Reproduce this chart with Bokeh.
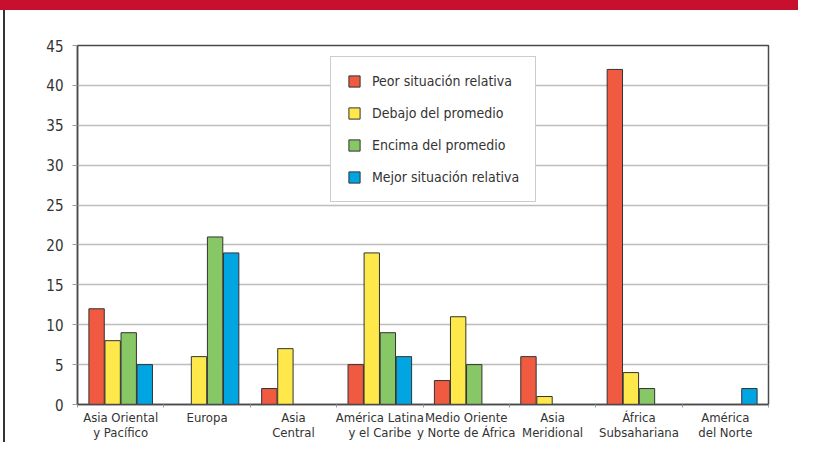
import numpy as np
from bokeh.plotting import figure
from bokeh.models import (Range1d, FixedTicker, Legend, LegendItem, ColumnDataSource, Div)
from bokeh.layouts import column, row
from bokeh.embed import file_html
from bokeh.resources import INLINE

# ---- data -------------------------------------------------------------
categories = [
    "Asia Oriental\ny Pacífico",
    "Europa",
    "Asia\nCentral",
    "América Latina\ny el Caribe",
    "Medio Oriente\ny Norte de África",
    "Asia\nMeridional",
    "África\nSubsahariana",
    "América\ndel Norte",
]
series_names = [
    "Peor situación relativa",
    "Debajo del promedio",
    "Encima del promedio",
    "Mejor situación relativa",
]
peor = [12, 0, 2, 5, 3, 6, 42, 0]
debajo = [8, 6, 7, 19, 11, 1, 4, 0]
encima = [9, 21, 0, 9, 5, 0, 2, 0]
mejor = [5, 19, 0, 6, 0, 0, 0, 2]
y_ticks = [0, 5, 10, 15, 20, 25, 30, 35, 40, 45]

series_values = [peor, debajo, encima, mejor]
colors = ["#EF5A40", "#FFE84A", "#87C766", "#00A5E1"]

FONT = "'DejaVu Sans Condensed', Roboto, sans-serif"
TXT = "#333333"

n = len(categories)
centers = np.arange(n) + 0.5
bar_step = 0.186
bar_w = 0.178

p = figure(width=793, height=432, x_range=Range1d(0, n), y_range=Range1d(0, 45),
           output_backend="svg", toolbar_location=None,
           min_border_left=72, min_border_right=30, min_border_top=35,
           min_border_bottom=30)
p.background_fill_color = "white"
p.border_fill_color = "white"
p.outline_line_color = "#4a4a4a"
p.outline_line_width = 1.5

# grid
p.xgrid.grid_line_color = None
p.ygrid.grid_line_color = "#bdbdbd"
p.ygrid.grid_line_width = 1.5
p.ygrid.ticker = FixedTicker(ticks=y_ticks)

# y axis
p.yaxis.ticker = FixedTicker(ticks=y_ticks)
p.yaxis.axis_line_color = "#4a4a4a"
p.yaxis.axis_line_width = 1.5
p.yaxis.major_tick_in = 0
p.yaxis.major_tick_out = 5
p.yaxis.major_tick_line_color = "#9a9a9a"
p.yaxis.minor_tick_line_color = None
p.yaxis.major_label_text_font = FONT
p.yaxis.major_label_text_font_size = "15px"
p.yaxis.major_label_text_color = TXT
p.yaxis.major_label_standoff = 9

# x axis: labels at centers, small ticks at category boundaries
p.xaxis.ticker = FixedTicker(ticks=list(centers), minor_ticks=list(range(n + 1)))
p.xaxis.major_label_overrides = {float(c): lab for c, lab in zip(centers, categories)}
p.xaxis.axis_line_color = "#4a4a4a"
p.xaxis.axis_line_width = 1.5
p.xaxis.major_tick_line_color = None
p.xaxis.major_tick_in = 0
p.xaxis.major_tick_out = 0
p.xaxis.minor_tick_in = 0
p.xaxis.minor_tick_out = 3
p.xaxis.minor_tick_line_color = "#9a9a9a"
p.xaxis.major_label_text_font = FONT
p.xaxis.major_label_text_font_size = "13px"
p.xaxis.major_label_text_color = TXT
p.xaxis.major_label_text_line_height = 1.0
p.xaxis.major_label_standoff = 2

# bars
items = []
for k, (name, vals, col) in enumerate(zip(series_names, series_values, colors)):
    vals = np.array(vals, dtype=float)
    mask = vals > 0
    off = (k - 1.5) * bar_step
    src = ColumnDataSource(dict(x=centers[mask] + off, top=vals[mask]))
    r = p.vbar(x="x", top="top", bottom=0, width=bar_w, source=src,
               fill_color=col, line_color="#333333", line_width=1)
    items.append(LegendItem(label=name, renderers=[r]))

legend = Legend(items=items, location=(253, 202))
legend.label_text_font = FONT
legend.label_text_font_size = "14px"
legend.label_text_color = TXT
legend.glyph_width = 14
legend.glyph_height = 14
legend.label_height = 14
legend.label_standoff = 11
legend.spacing = 16
legend.padding = 16
legend.margin = 0
legend.border_line_color = "#9a9a9a"
legend.border_line_width = 1
legend.background_fill_color = "white"
legend.background_fill_alpha = 1
p.add_layout(legend)

# page decoration: red banner on top, dark rule on the left
banner = Div(text="", width=798, height=10, margin=(0, 0, 0, 0),
             styles={"background-color": "#C8102E"})
side = Div(text="", width=2, height=432, margin=(0, 0, 0, 3),
           styles={"background-color": "#333333"})
page = column(banner, row(side, p, spacing=0), spacing=0)

open("out.html", "w").write(file_html(page, INLINE))
